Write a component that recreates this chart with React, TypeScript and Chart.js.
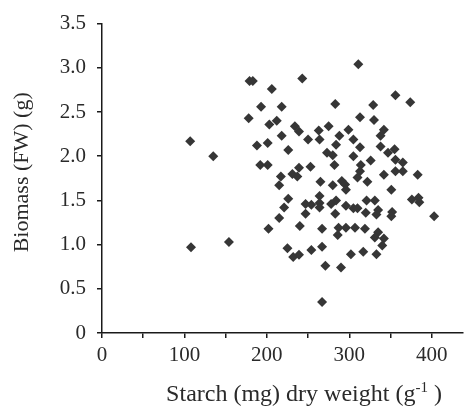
import React, { useEffect, useRef } from 'react';
import { Chart, registerables } from 'chart.js';

Chart.register(...registerables);

// Starch (mg) dry weight per g  — x values
const starchX = [
  107, 135, 108, 154, 179, 183, 193, 178, 188, 192,
  243, 206, 218, 283, 203, 212, 234, 239, 263, 275,
  299, 250, 264, 288, 218, 201, 284, 226, 273, 280,
  201, 282, 253, 239, 231, 217, 237, 265, 215, 291,
  295, 296, 311, 356, 374, 329, 313, 330, 342, 338,
  305, 313, 338, 347, 355, 305, 326, 356, 365, 314,
  313, 356, 365, 342, 383, 310, 322, 280, 226, 221,
  247, 254, 264, 264, 264, 278, 284, 296, 305, 247,
  283, 215, 202, 240, 267, 287, 296, 286, 225, 232,
  239, 254, 267, 271, 290, 302, 267, 351, 376, 384,
  385, 403, 321, 331, 310, 320, 335, 333, 352, 351,
  307, 319, 335, 331, 342, 340, 317, 333,
];

// Biomass (FW) in g — y values
const biomassY = [
  2.17, 2.0, 0.97, 1.03, 2.85, 2.85, 2.56, 2.43, 2.12, 1.9,
  2.88, 2.76, 2.56, 2.59, 2.36, 2.4, 2.34, 2.28, 2.29, 2.34,
  2.3, 2.19, 2.19, 2.23, 2.23, 2.15, 2.13, 2.07, 2.04, 2.01,
  1.9, 1.9, 1.88, 1.87, 1.8, 1.77, 1.77, 1.71, 1.67, 1.72,
  1.68, 1.62, 3.04, 2.69, 2.61, 2.58, 2.44, 2.41, 2.3, 2.23,
  2.19, 2.1, 2.11, 2.04, 2.08, 2.0, 1.95, 1.96, 1.93, 1.9,
  1.83, 1.83, 1.83, 1.79, 1.79, 1.76, 1.71, 1.67, 1.52, 1.42,
  1.46, 1.45, 1.55, 1.47, 1.42, 1.46, 1.5, 1.44, 1.41, 1.35,
  1.35, 1.3, 1.18, 1.21, 1.18, 1.19, 1.19, 1.11, 0.96, 0.86,
  0.885, 0.94, 0.975, 0.76, 0.74, 0.89, 0.35, 1.62, 1.51, 1.53,
  1.48, 1.32, 1.5, 1.5, 1.41, 1.36, 1.39, 1.34, 1.37, 1.32,
  1.19, 1.18, 1.14, 1.08, 1.07, 0.99, 0.92, 0.89,
];

const xTickValues = [0, 50, 100, 150, 200, 250, 300, 350, 400];
const xLabelValues = [0, 100, 200, 300, 400];
const yTickValues = [0, 0.5, 1.0, 1.5, 2.0, 2.5, 3.0, 3.5];

const xTitleMain = 'Starch (mg) dry weight (g';
const xTitleSup = '-1';
const xTitleEnd = ' )';
const yTitle = 'Biomass (FW) (g)';

const FONT = '"Liberation Serif", "Times New Roman", serif';
const TEXT = '#2a2a2a';
const AXIS = '#1a1a1a';
const MARK = '#363636';

const titlePlugin = {
  id: 'axisTitles',
  afterDraw(chart: any) {
    const { ctx, chartArea } = chart;
    ctx.save();
    ctx.fillStyle = TEXT;
    // y title
    ctx.save();
    ctx.font = `22px ${FONT}`;
    ctx.translate(22, (chartArea.top + chartArea.bottom) / 2 - 6);
    ctx.rotate(-Math.PI / 2);
    ctx.textAlign = 'center';
    ctx.textBaseline = 'middle';
    ctx.fillText(yTitle, 0, 0);
    ctx.restore();
    // x title with superscript
    ctx.textBaseline = 'alphabetic';
    ctx.textAlign = 'left';
    const mainFont = `24px ${FONT}`;
    const supFont = `15px ${FONT}`;
    ctx.font = mainFont;
    const w1 = ctx.measureText(xTitleMain).width;
    const w3 = ctx.measureText(xTitleEnd).width;
    ctx.font = supFont;
    const w2 = ctx.measureText(xTitleSup).width;
    const total = w1 + w2 + w3;
    const cx = chartArea.left + 202;
    const base = 401;
    let x = cx - total / 2;
    ctx.font = mainFont;
    ctx.fillText(xTitleMain, x, base);
    x += w1;
    ctx.font = supFont;
    ctx.fillText(xTitleSup, x, base - 9);
    x += w2;
    ctx.font = mainFont;
    ctx.fillText(xTitleEnd, x, base);
    ctx.restore();
  },
};

export default function App() {
  const canvasRef = useRef<HTMLCanvasElement | null>(null);

  useEffect(() => {
    const canvas = canvasRef.current;
    if (!canvas) return;
    const points = starchX.map((x, i) => ({ x, y: biomassY[i] }));
    const chart = new Chart(canvas, {
      type: 'scatter',
      data: {
        datasets: [
          {
            data: points,
            pointStyle: 'rectRot',
            pointRadius: 5,
            pointBackgroundColor: MARK,
            pointBorderColor: MARK,
            pointBorderWidth: 0,
          },
        ],
      },
      plugins: [titlePlugin],
      options: {
        animation: false,
        responsive: true,
        maintainAspectRatio: false,
        layout: { padding: { top: 20, right: 0, left: 0, bottom: 0 } },
        plugins: {
          legend: { display: false },
          tooltip: { enabled: false },
        },
        scales: {
          x: {
            type: 'linear',
            min: 0,
            max: 438,
            border: { display: true, color: AXIS, width: 1.5 },
            grid: {
              display: true,
              drawOnChartArea: false,
              drawTicks: true,
              tickLength: 5,
              color: AXIS,
              lineWidth: 1.5,
            },
            afterBuildTicks: (scale: any) => {
              scale.ticks = xTickValues.map((v) => ({ value: v }));
            },
            afterFit: (scale: any) => {
              scale.height = 77;
            },
            ticks: {
              autoSkip: false,
              maxRotation: 0,
              padding: 5,
              color: TEXT,
              font: { family: FONT, size: 21 },
              callback: (v: any) => (xLabelValues.includes(Number(v)) ? String(v) : ''),
            },
          },
          y: {
            type: 'linear',
            min: 0,
            max: 3.5,
            border: { display: true, color: AXIS, width: 1.5 },
            grid: {
              display: true,
              drawOnChartArea: false,
              drawTicks: true,
              tickLength: 5,
              color: AXIS,
              lineWidth: 1.5,
            },
            afterBuildTicks: (scale: any) => {
              scale.ticks = yTickValues.map((v) => ({ value: v }));
            },
            afterFit: (scale: any) => {
              scale.width = 102;
            },
            ticks: {
              padding: 11,
              color: TEXT,
              font: { family: FONT, size: 21 },
              callback: (v: any) => (Number(v) === 0 ? '0' : Number(v).toFixed(1)),
            },
          },
        },
      },
    });
    return () => chart.destroy();
  }, []);

  return (
    <div style={{ position: 'absolute', left: 0, top: 0, width: 468, height: 410, background: '#fff' }}>
      <canvas ref={canvasRef} />
    </div>
  );
}
